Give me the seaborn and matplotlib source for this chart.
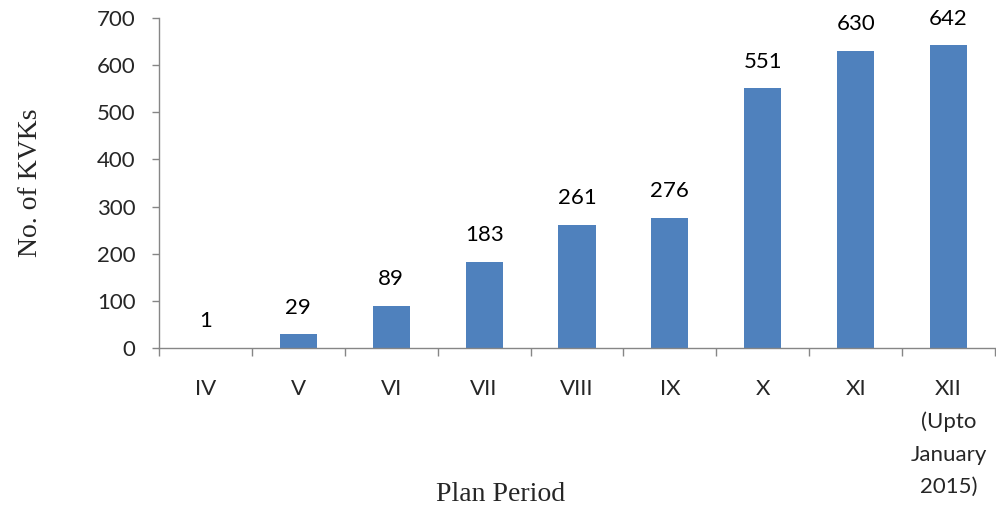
import matplotlib
matplotlib.use("Agg")
import matplotlib.pyplot as plt
import seaborn as sns
import pandas as pd
from matplotlib.ticker import FixedLocator

plans = ["IV", "V", "VI", "VII", "VIII", "IX", "X", "XI", "XII\n(Upto\nJanuary\n2015)"]
kvk_counts = [1, 29, 89, 183, 261, 276, 551, 630, 642]

df = pd.DataFrame({"plan": plans, "kvks": kvk_counts})

sns.set_theme(style="white")
plt.rcParams["font.family"] = ["Lato", "DejaVu Sans"]

fig = plt.figure(figsize=(9.96, 5.08), dpi=100)
ax = fig.add_axes([0.1596, 0.315, 0.8394, 0.6496])

sns.barplot(data=df, x="plan", y="kvks", color="#4F81BD", width=0.4,
            saturation=1, ax=ax, edgecolor="none")

for i, v in enumerate(kvk_counts):
    ax.annotate(str(v), (i, v), xytext=(0, 12), textcoords="offset points",
                ha="center", va="bottom", fontsize=16, color="black")

ax.set_ylim(0, 700)
ax.set_xlim(-0.5, len(plans) - 0.5)
ax.set_yticks(range(0, 701, 100))

spine_color = "#868686"
for side in ("top", "right"):
    ax.spines[side].set_visible(False)
for side in ("left", "bottom"):
    ax.spines[side].set_color(spine_color)
    ax.spines[side].set_linewidth(1.0)

ax.tick_params(axis="y", which="major", direction="out", length=5, width=1,
               color=spine_color, left=True, labelsize=16, pad=12)
ax.tick_params(axis="x", which="major", length=0, labelsize=16, pad=22)
ax.xaxis.set_minor_locator(FixedLocator([i - 0.5 for i in range(len(plans) + 1)]))
ax.tick_params(axis="x", which="minor", direction="out", length=6, width=1,
               color=spine_color, bottom=True)
for lab in ax.get_xticklabels():
    lab.set_linespacing(1.78)
    lab.set_verticalalignment("top")

ax.set_xlabel("Plan Period", family="Liberation Serif", fontsize=20)
ax.set_ylabel("No. of KVKs", family="Liberation Serif", fontsize=20)
ax.xaxis.set_label_coords(0.408, -0.405)
ax.yaxis.set_label_coords(-0.139, 0.5)

fig.savefig("out.png", dpi=100)
